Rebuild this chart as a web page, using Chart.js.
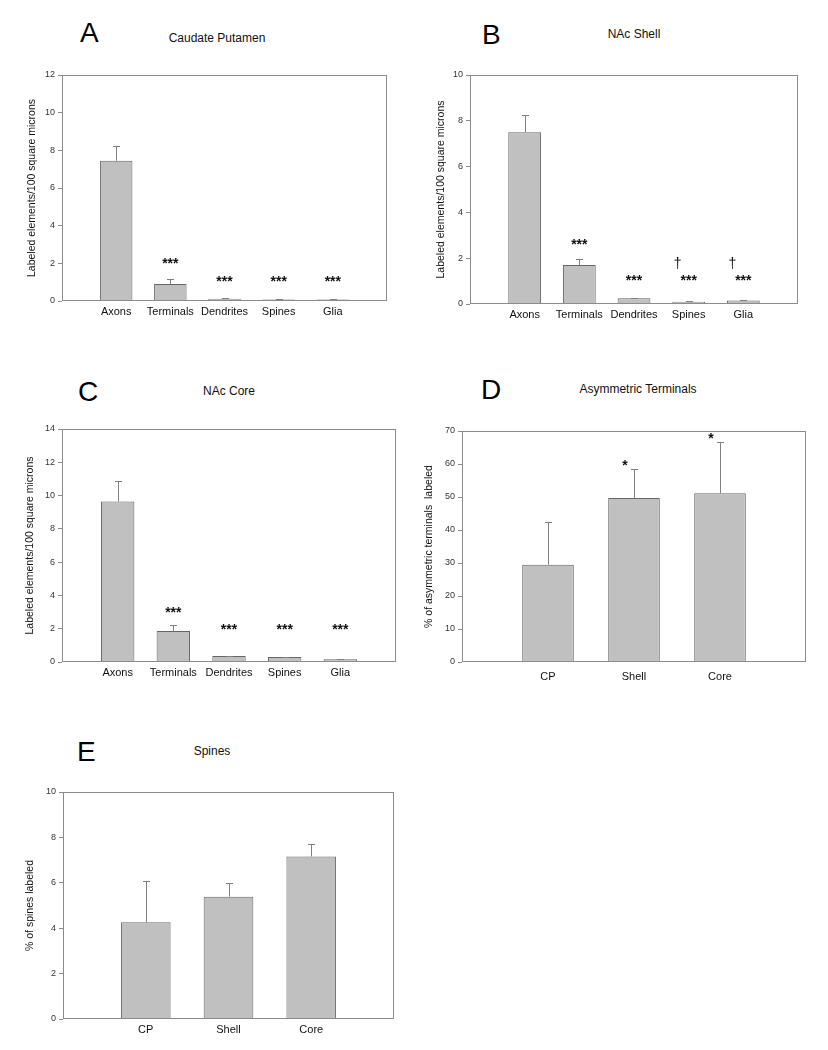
<!DOCTYPE html>
<html>
<head>
<meta charset="utf-8">
<script src="https://cdn.jsdelivr.net/npm/chart.js@4/dist/chart.umd.min.js"></script>
<style>
  body { margin: 0; background: #fff; font-family: "Liberation Sans", Arial, sans-serif; }
  #page { position: relative; width: 828px; height: 1050px; overflow: hidden; background: #fff; }
  canvas { position: absolute; }
  .letter { position: absolute; font-size: 28px; line-height: 1; color: #000; }
  .title { position: absolute; font-size: 12px; line-height: 1; color: #111; white-space: nowrap; transform: translateX(-50%); }
</style>
</head>
<body>
<div id="page">
  <div class="letter" style="left:80px;top:19px">A</div>
  <div class="title" style="left:217px;top:32px">Caudate Putamen</div>
  <div class="letter" style="left:482px;top:21px">B</div>
  <div class="title" style="left:634px;top:28px">NAc Shell</div>
  <div class="letter" style="left:78px;top:378px">C</div>
  <div class="title" style="left:229px;top:385px">NAc Core</div>
  <div class="letter" style="left:481px;top:376px">D</div>
  <div class="title" style="left:638px;top:383px">Asymmetric Terminals</div>
  <div class="letter" style="left:77px;top:738px">E</div>
  <div class="title" style="left:212px;top:745px">Spines</div>
</div>
<script>
// cell types (A-C) and regions (D-E)
const cellTypes = ["Axons", "Terminals", "Dendrites", "Spines", "Glia"];
const regions = ["CP", "Shell", "Core"];

// A: Caudate Putamen
const meanCP = [7.45, 0.9, 0.12, 0.08, 0.08];
const semCP = [0.78, 0.26, 0.03, 0.02, 0.03];
const starsCP = ["", "***", "***", "***", "***"];

// B: NAc Shell
const meanShell = [7.5, 1.7, 0.25, 0.1, 0.15];
const semShell = [0.75, 0.25, 0.03, 0.02, 0.04];
const starsShell = ["", "***", "***", "***", "***"];
const daggersShell = ["", "", "", "†", "†"];

// C: NAc Core
const meanCore = [9.65, 1.87, 0.36, 0.3, 0.16];
const semCore = [1.2, 0.33, 0.03, 0.03, 0.02];
const starsCore = ["", "***", "***", "***", "***"];

// D: asymmetric terminals
const meanAsym = [29.5, 49.7, 51.1];
const semAsym = [13.0, 8.8, 15.7];
const starsAsym = ["", "*", "*"];

// E: spines
const meanSpines = [4.26, 5.39, 7.16];
const semSpines = [1.8, 0.6, 0.53];

const page = document.getElementById("page");
const FONT = '"Liberation Sans", Arial, sans-serif';

// box frame round the plot
const framePlugin = {
  id: "frame",
  afterDatasetsDraw(chart) {
    const a = chart.chartArea, ctx = chart.ctx;
    ctx.save();
    ctx.strokeStyle = "#8c8c8c";
    ctx.lineWidth = 1;
    ctx.strokeRect(a.left + 0.5, a.top + 0.5, a.right - a.left - 1, a.bottom - a.top - 1);
    ctx.restore();
  }
};

// upper error bars + significance marks
const errPlugin = {
  id: "errs",
  afterDatasetsDraw(chart, args, o) {
    const meta = chart.getDatasetMeta(0), ys = chart.scales.y, ctx = chart.ctx;
    ctx.save();
    ctx.strokeStyle = "#808080";
    ctx.lineWidth = 1;
    o.mean.forEach((m, i) => {
      const bar = meta.data[i];
      const x = Math.round(bar.x) + 0.5;
      const top = Math.round(ys.getPixelForValue(m + o.sem[i])) + 0.5;
      ctx.beginPath();
      ctx.moveTo(x, bar.y);
      ctx.lineTo(x, top);
      ctx.moveTo(x - 3.5, top);
      ctx.lineTo(x + 3.5, top);
      ctx.stroke();
    });
    if (o.stars) {
      ctx.fillStyle = "#111";
      ctx.textAlign = "center";
      ctx.textBaseline = "alphabetic";
      o.stars.forEach((s, i) => {
        if (!s) return;
        const bar = meta.data[i];
        const top = ys.getPixelForValue(o.mean[i] + o.sem[i]);
        const py = Math.min(top - o.gap, chart.chartArea.bottom - o.floor);
        ctx.font = "bold 14px " + FONT;
        ctx.fillText(s, bar.x + o.dx, py + 0.58 * 14);
        if (o.daggers && o.daggers[i]) {
          ctx.font = "14px " + FONT;
          ctx.fillText(o.daggers[i], bar.x + o.dx - 11, py - 13 + 0.3 * 14);
        }
      });
    }
    ctx.restore();
  }
};

function makePanel(p) {
  const [cx, cy, cw, ch] = p.box;
  const [pl, pt, pr, pb] = p.plot;
  const cv = document.createElement("canvas");
  cv.width = cw;
  cv.height = ch;
  cv.style.left = cx + "px";
  cv.style.top = cy + "px";
  page.appendChild(cv);

  new Chart(cv, {
    type: "bar",
    data: {
      datasets: [{
        data: p.cats.map((c, i) => ({ x: i + 1, y: p.mean[i] })),
        backgroundColor: "#c0c0c0",
        borderColor: "#666",
        borderWidth: 1,
        borderSkipped: "start",
        categoryPercentage: 1,
        barPercentage: 0.6
      }]
    },
    options: {
      responsive: false,
      animation: false,
      layout: { padding: { left: 0, top: pt - cy, right: cx + cw - pr, bottom: 0 } },
      plugins: {
        legend: { display: false },
        tooltip: { enabled: false },
        errs: { mean: p.mean, sem: p.sem, stars: p.stars, daggers: p.daggers,
                gap: p.gap, floor: p.floor, dx: p.dx || 0 }
      },
      scales: {
        x: {
          type: "linear",
          offset: false,
          min: 0,
          max: p.cats.length + 1,
          grid: { display: false, drawTicks: false, offset: false },
          border: { display: false },
          afterBuildTicks: s => { s.ticks = p.cats.map((c, i) => ({ value: i + 1 })); },
          ticks: {
            callback: v => p.cats[v - 1],
            font: { size: 11, family: FONT },
            color: "#111",
            padding: p.xPad,
            maxRotation: 0,
            autoSkip: false
          },
          afterFit: s => { s.height = cy + ch - pb; }
        },
        y: {
          min: 0,
          max: p.yMax,
          ticks: { stepSize: p.yStep, font: { size: 9, family: FONT }, color: "#333", padding: 3 },
          grid: { drawOnChartArea: false, tickLength: 4, color: "#8c8c8c" },
          border: { display: false },
          title: {
            display: true,
            text: p.yTitle,
            font: { size: 10.5, family: FONT },
            color: "#111",
            padding: { top: p.yTitleX - cx - 6, bottom: 0 }
          },
          afterFit: s => { s.width = pl - cx; }
        }
      }
    },
    plugins: [framePlugin, errPlugin]
  });
}

const unitTitle = "Labeled elements/100 square microns";

makePanel({ box: [0, 50, 405, 280], plot: [62, 75, 387, 301], cats: cellTypes,
  mean: meanCP, sem: semCP, stars: starsCP, gap: 19, floor: 23,
  yMax: 12, yStep: 2, yTitle: unitTitle, yTitleX: 32, xPad: 4 });

makePanel({ box: [414, 50, 400, 280], plot: [470, 75, 798, 304], cats: cellTypes,
  mean: meanShell, sem: semShell, stars: starsShell, daggers: daggersShell, gap: 18, floor: 27,
  yMax: 10, yStep: 2, yTitle: unitTitle, yTitleX: 441, xPad: 4 });

makePanel({ box: [0, 410, 410, 280], plot: [62, 429, 396, 662], cats: cellTypes,
  mean: meanCore, sem: semCore, stars: starsCore, gap: 17, floor: 36,
  yMax: 14, yStep: 2, yTitle: unitTitle, yTitleX: 30, xPad: 4 });

makePanel({ box: [414, 410, 410, 280], plot: [462, 431, 806, 662], cats: regions,
  mean: meanAsym, sem: semAsym, stars: starsAsym, gap: 7, floor: 0, dx: -9,
  yMax: 70, yStep: 10, yTitle: "% of asymmetric terminals  labeled", yTitleX: 429, xPad: 8 });

makePanel({ box: [0, 770, 410, 280], plot: [63, 792, 394, 1019], cats: regions,
  mean: meanSpines, sem: semSpines,
  yMax: 10, yStep: 2, yTitle: "% of spines labeled", yTitleX: 30, xPad: 4 });
</script>
</body>
</html>
